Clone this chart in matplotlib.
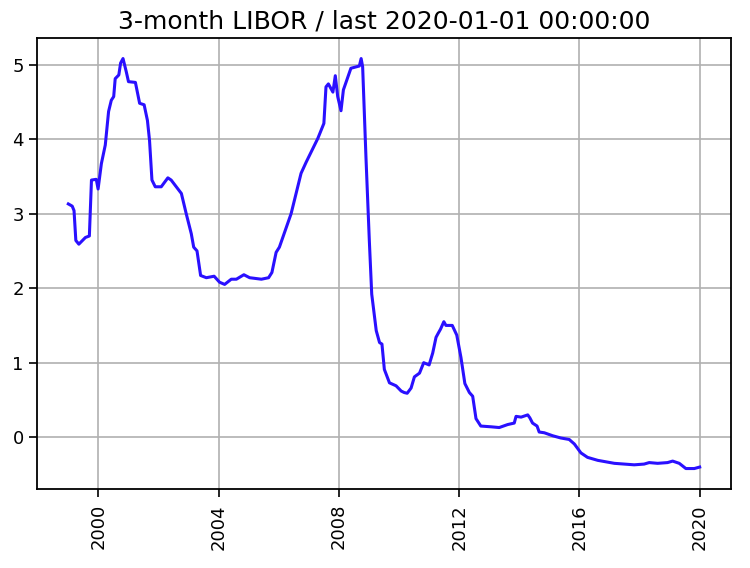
import matplotlib
matplotlib.use("Agg")
import matplotlib.pyplot as plt
import matplotlib.dates as mdates
import numpy as np
import pandas as pd

# decimal-year readings and 3-month LIBOR values (%)
year = [1999.00, 1999.13, 1999.19, 1999.25, 1999.35, 1999.57, 1999.70, 1999.77, 1999.93, 1999.99,
        2000.10, 2000.23, 2000.34, 2000.43, 2000.51, 2000.56, 2000.68, 2000.74, 2000.82, 2000.93,
        2001.00, 2001.23, 2001.37, 2001.52, 2001.63, 2001.70, 2001.78, 2001.89, 2002.09, 2002.31,
        2002.42, 2002.76, 2002.92, 2003.09, 2003.17, 2003.28, 2003.40, 2003.59, 2003.85, 2004.03,
        2004.20, 2004.42, 2004.59, 2004.84, 2005.03, 2005.42, 2005.66, 2005.77, 2005.91, 2006.02,
        2006.41, 2006.74, 2006.91, 2007.30, 2007.50, 2007.57, 2007.65, 2007.80, 2007.88, 2007.96,
        2008.07, 2008.15, 2008.40, 2008.68, 2008.74, 2008.79, 2008.90, 2009.01, 2009.09, 2009.24,
        2009.35, 2009.43, 2009.51, 2009.68, 2009.90, 2010.07, 2010.17, 2010.27, 2010.40, 2010.51,
        2010.68, 2010.82, 2011.00, 2011.12, 2011.23, 2011.31, 2011.38, 2011.49, 2011.56, 2011.77,
        2011.92, 2012.06, 2012.19, 2012.34, 2012.45, 2012.56, 2012.72, 2013.06, 2013.33, 2013.61,
        2013.83, 2013.89, 2014.06, 2014.28, 2014.35, 2014.44, 2014.59, 2014.66, 2014.83, 2015.11,
        2015.38, 2015.66, 2015.83, 2016.05, 2016.27, 2016.61, 2017.16, 2017.82, 2018.15, 2018.32,
        2018.60, 2018.93, 2019.10, 2019.32, 2019.54, 2019.82, 2020.00]
rate = [3.13, 3.10, 3.04, 2.64, 2.59, 2.68, 2.70, 3.45, 3.46, 3.33,
        3.67, 3.92, 4.37, 4.52, 4.57, 4.81, 4.86, 5.02, 5.08, 4.90,
        4.77, 4.76, 4.48, 4.46, 4.25, 3.98, 3.45, 3.36, 3.36, 3.48,
        3.45, 3.27, 3.00, 2.73, 2.55, 2.50, 2.17, 2.14, 2.16, 2.08,
        2.05, 2.12, 2.12, 2.18, 2.14, 2.12, 2.14, 2.21, 2.48, 2.55,
        3.00, 3.54, 3.69, 4.01, 4.21, 4.70, 4.74, 4.63, 4.85, 4.57,
        4.38, 4.66, 4.95, 4.98, 5.08, 4.97, 3.76, 2.64, 1.92, 1.43,
        1.27, 1.25, 0.91, 0.73, 0.69, 0.62, 0.60, 0.59, 0.66, 0.81,
        0.86, 1.00, 0.97, 1.13, 1.34, 1.40, 1.45, 1.55, 1.50, 1.50,
        1.37, 1.07, 0.72, 0.60, 0.55, 0.25, 0.15, 0.14, 0.13, 0.17,
        0.19, 0.28, 0.27, 0.30, 0.26, 0.19, 0.15, 0.07, 0.06, 0.02,
        -0.01, -0.03, -0.09, -0.21, -0.27, -0.31, -0.35, -0.37, -0.36, -0.34,
        -0.35, -0.34, -0.32, -0.35, -0.42, -0.42, -0.40]
title = "3-month LIBOR / last 2020-01-01 00:00:00"

yr = np.array(year)
whole = np.floor(yr).astype(int)
dates = pd.to_datetime([f"{y}-01-01" for y in whole]) + pd.to_timedelta((yr - whole) * 365.25, unit="D")

fig = plt.figure(figsize=(7.5, 5.68), dpi=100)
ax = fig.add_axes([0.049, 0.139, 0.926, 0.794])
ax.plot(dates, rate, color="#2a10ff", linewidth=2.2)
ax.grid(True, color="#b0b0b0", linewidth=1.2)
ax.set_title(title, fontsize=18, pad=7)
ax.xaxis.set_major_locator(mdates.YearLocator(4))
ax.xaxis.set_major_formatter(mdates.DateFormatter("%Y"))
ax.tick_params(axis="both", labelsize=13, length=5.8, width=1.2)
ax.tick_params(axis="x", pad=5)
for lab in ax.get_xticklabels():
    lab.set_rotation(90)
for s in ax.spines.values():
    s.set_linewidth(1.3)
fig.savefig("out.png", dpi=100)
